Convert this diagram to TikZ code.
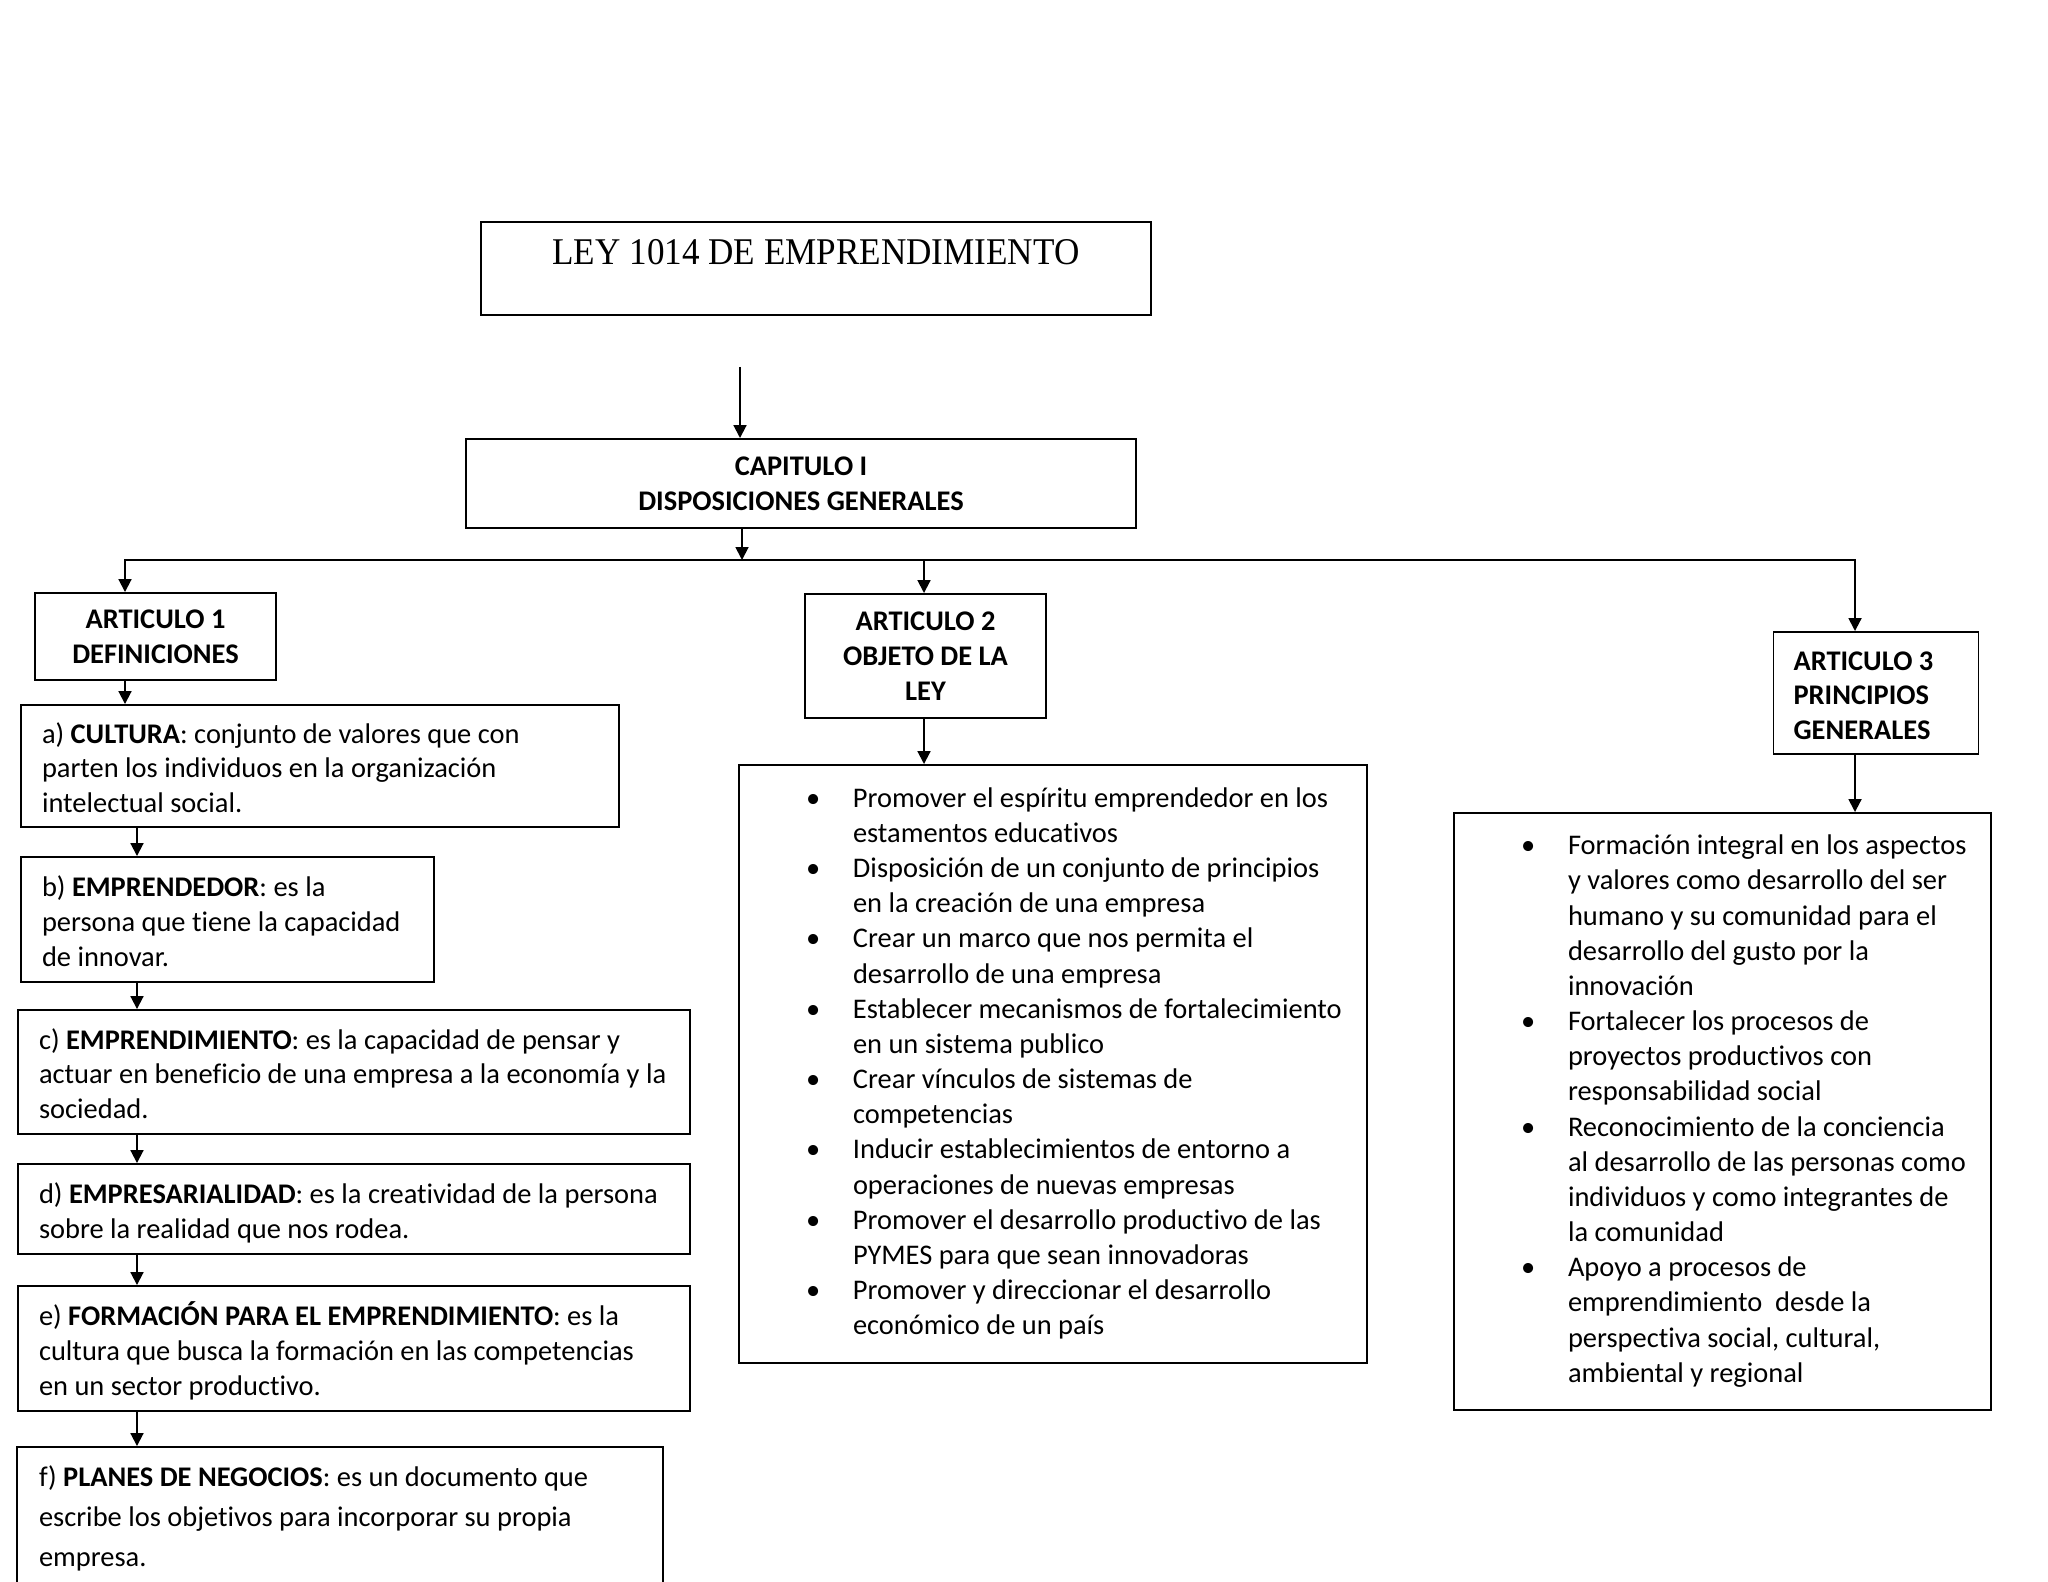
\documentclass[tikz,border=0pt]{standalone}
\usepackage{fontspec}
\setmainfont{Carlito}[Ligatures=NoCommon]
\newfontfamily\titlefont{Liberation Serif}[FakeStretch=0.93]
\usetikzlibrary{arrows.meta}

\newlength\px
\setlength\px{0.38672pt}
% text box with a fixed left margin (optional: drop the lines a little)
\newcommand\izq[4][0]{\makebox[#2\px][l]{\hspace*{#3\px}\raisebox{-#1\px}[\height][\depth]{\begin{tabular}{@{}l@{}}#4\end{tabular}}}}
\newcommand\bul{\makebox[47\px][l]{\textbullet}}
\newcommand\sig{\hspace*{47\px}}

\tikzset{
  caja/.style={draw,inner sep=0pt,line width=0.75pt},
  cabecera/.style={caja,align=center,font=\fontsize{11}{13.5}\selectfont\bfseries},
  flecha/.style={->,line width=0.75pt},
}

\begin{document}
\begin{tikzpicture}[x=1\px,y=-1\px,>={Triangle[width=5pt,length=5pt]},font=\fontsize{11}{13.5}\selectfont]
  \useasboundingbox[fill=white] (0,0) rectangle (2048,1582);

  % titulo y capitulo
  \node[caja,minimum width=670\px,minimum height=93\px,font=\titlefont\fontsize{14.6}{17}\selectfont,
        text height=9.66pt,text depth=12.8pt] (titulo) at (816,268.5) {LEY 1014 DE EMPRENDIMIENTO};
  \node[cabecera,minimum width=670\px,minimum height=89\px] (capitulo) at (801,483.5)
    {CAPITULO I\\DISPOSICIONES GENERALES};

  % articulos
  \node[cabecera,minimum width=241\px,minimum height=87\px] (art1) at (155.5,636.5) {ARTICULO 1\\DEFINICIONES};
  \node[cabecera,minimum width=241\px,minimum height=124\px] (art2) at (925.5,656) {ARTICULO 2\\OBJETO DE LA\\LEY};
  \node[cabecera,minimum width=205\px,minimum height=122\px] (art3) at (1876,693)
    {\izq[5]{205}{20}{ARTICULO 3\\PRINCIPIOS\\GENERALES}};

  % articulo 2
  \node[caja,minimum height=598\px,font=\fontsize{11}{13.6}\selectfont] (lista2) at (1053,1064) {\izq{628}{67}{%
    \bul Promover el espíritu emprendedor en los\\ \sig estamentos educativos\\
    \bul Disposición de un conjunto de principios\\ \sig en la creación de una empresa\\
    \bul Crear un marco que nos permita el\\ \sig desarrollo de una empresa\\
    \bul Establecer mecanismos de fortalecimiento\\ \sig en un sistema publico\\
    \bul Crear vínculos de sistemas de\\ \sig competencias\\
    \bul Inducir establecimientos de entorno a\\ \sig operaciones de nuevas empresas\\
    \bul Promover el desarrollo productivo de las\\ \sig PYMES para que sean innovadoras\\
    \bul Promover y direccionar el desarrollo\\ \sig económico de un país}};

  % articulo 3
  \node[caja,minimum height=597\px,font=\fontsize{11}{13.6}\selectfont] (lista3) at (1722.5,1111.5) {\izq{537}{67}{%
    \bul Formación integral en los aspectos\\ \sig y valores como desarrollo del ser\\
    \sig humano y su comunidad para el\\ \sig desarrollo del gusto por la\\ \sig innovación\\
    \bul Fortalecer los procesos de\\ \sig proyectos productivos con\\ \sig responsabilidad social\\
    \bul Reconocimiento de la conciencia\\ \sig al desarrollo de las personas como\\
    \sig individuos y como integrantes de\\ \sig la comunidad\\
    \bul Apoyo a procesos de\\ \sig emprendimiento\ \ desde la\\
    \sig perspectiva social, cultural,\\ \sig ambiental y regional}};

  % definiciones
  \node[caja,minimum height=122\px] (defa) at (320,766) {\izq[5]{598}{21}{%
    a) \textbf{CULTURA}: conjunto de valores que con\\parten los individuos en la organización\\intelectual social.}};
  \node[caja,minimum height=125\px] (defb) at (227.5,919.5) {\izq[5]{413}{21}{%
    b) \textbf{EMPRENDEDOR}: es la\\persona que tiene la capacidad\\de innovar.}};
  \node[caja,minimum height=124\px] (defc) at (354,1072) {\izq[5]{672}{21}{%
    c) \textbf{EMPRENDIMIENTO}: es la capacidad de pensar y\\actuar en beneficio de una empresa a la economía y la\\sociedad.}};
  \node[caja,minimum height=90\px] (defd) at (354,1209) {\izq[5]{672}{21}{%
    d) \textbf{EMPRESARIALIDAD}: es la creatividad de la persona\\sobre la realidad que nos rodea.}};
  \node[caja,minimum height=125\px] (defe) at (354,1348.5) {\izq[5]{672}{21}{%
    e) \textbf{FORMACIÓN PARA EL EMPRENDIMIENTO}: es la\\cultura que busca la formación en las competencias\\en un sector productivo.}};
  \node[caja,minimum height=143\px,font=\fontsize{11}{15.5}\selectfont] (deff) at (340,1518.5) {\izq{646}{22}{%
    f) \textbf{PLANES DE NEGOCIOS}: es un documento que\\escribe los objetivos para incorporar su propia\\empresa.}};

  % conectores
  \coordinate (inicio) at (740,367);
  \coordinate (bus) at (742,560);
  \coordinate (busL) at (125,560);
  \coordinate (busR) at (1855,560);
  \coordinate (bus2) at (924,560);
  \coordinate (eje) at (137,700);
  \draw[flecha] (inicio) -- (inicio |- capitulo.north);
  \draw[flecha] (capitulo.south -| bus) -- (bus);
  \draw[flecha] (bus2) -- (busL) -- (busL |- art1.north);
  \draw[flecha] (bus2) -- (busR) -- (busR |- art3.north);
  \draw[flecha] (bus2) -- (bus2 |- art2.north);
  \draw[flecha] (art2.south -| bus2) -- (bus2 |- lista2.north);
  \draw[flecha] (art3.south -| busR) -- (busR |- lista3.north);
  \draw[flecha] (art1.south -| busL) -- (busL |- defa.north);
  \foreach \desde/\hasta in {defa/defb,defb/defc,defc/defd,defd/defe,defe/deff}
    \draw[flecha] (\desde.south -| eje) -- (eje |- \hasta.north);
\end{tikzpicture}
\end{document}
